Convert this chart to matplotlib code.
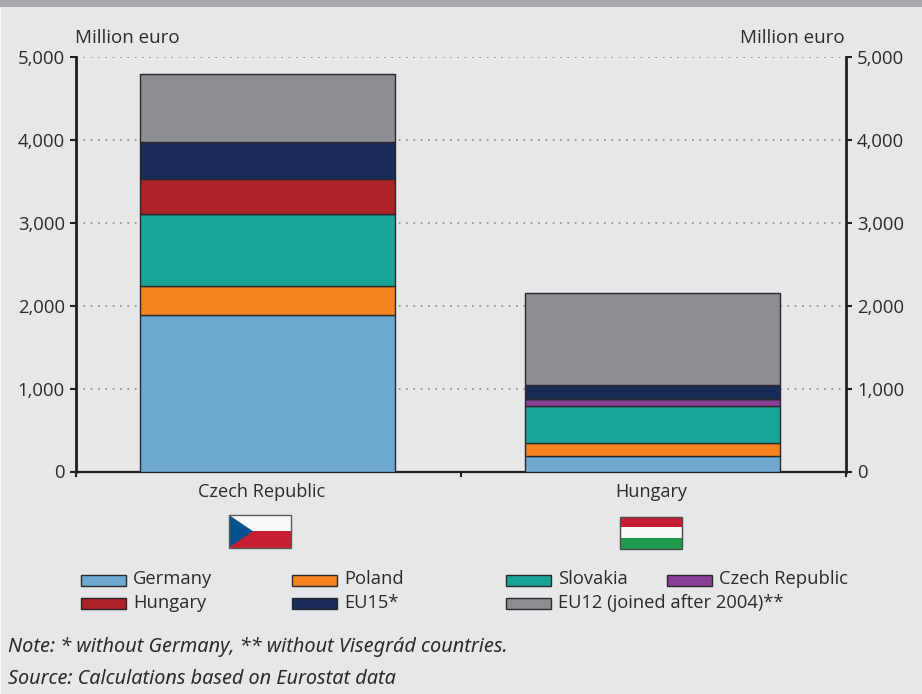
import matplotlib
matplotlib.use('Agg')
import matplotlib.pyplot as plt
from matplotlib.patches import Rectangle, Polygon

plt.rcParams['font.family'] = ['Open Sans', 'DejaVu Sans']

W, H = 922., 694.
bg = '#e6e7e9'
text_col = '#2b2a2c'
line_col = '#231f20'

countries = ['Czech Republic', 'Hungary']
germany = [1888, 187]
poland = [344, 157]
slovakia = [880, 450]
czech = [0, 81]
hungary = [416, 0]
eu15 = [441, 165]
eu12 = [820, 1117]

names = ['Germany', 'Poland', 'Slovakia', 'Czech Republic', 'Hungary', 'EU15*', 'EU12 (joined after 2004)**']
series = [germany, poland, slovakia, czech, hungary, eu15, eu12]
colors = ['#6fa8cf', '#f58220', '#1aa497', '#8a3f96', '#ad2226', '#182b56', '#8c8d91']

yticks = [0, 1000, 2000, 3000, 4000, 5000]
yticklabels = ['0', '1,000', '2,000', '3,000', '4,000', '5,000']

fig = plt.figure(figsize=(W/100, H/100), dpi=100, facecolor=bg)

# full-figure layer in pixel coordinates for the band, flags and legend
top = fig.add_axes([0, 0, 1, 1], zorder=3)
top.set_xlim(0, W)
top.set_ylim(H, 0)
top.axis('off')
top.add_patch(Rectangle((0, 0), W, 7, fc='#a7a9ac', ec='none'))
top.add_patch(Rectangle((0, 7), 1, H-7, fc='#f4f5f6', ec='none'))

# plot area
left, right, ytop, ybot = 76., 846., 57., 471.5
ax = fig.add_axes([left/W, 1-ybot/H, (right-left)/W, (ybot-ytop)/H], facecolor='none')

x = [0, 1]
bottom = [0, 0]
for vals, c in zip(series, colors):
    ax.bar(x, vals, width=0.663, bottom=bottom, color=c, edgecolor='#2a2a2e', linewidth=1.0, zorder=3)
    bottom = [b+v for b, v in zip(bottom, vals)]

x0, x1 = -0.4977, 1.5036
ax.set_xlim(x0, x1)
ax.set_ylim(0, 5000)
ax.set_yticks(yticks)
ax.set_yticklabels(yticklabels)
ax.set_xticks([x0, (x0+x1)/2, x1])
ax.set_xticklabels([])
ax.tick_params(axis='y', labelsize=13.3, labelcolor=text_col, color=line_col, width=1.5, length=4.3, pad=3.6)
ax.tick_params(axis='x', color=line_col, width=1.5, length=3.6)
ax.yaxis.grid(True, linestyle=(0, (1.2, 3.6)), color='#86888b', linewidth=1.1, zorder=1)
ax.set_axisbelow(True)

for s in ['top', 'right']:
    ax.spines[s].set_visible(False)
ax.spines['left'].set_linewidth(2.0)
ax.spines['left'].set_color(line_col)
ax.spines['bottom'].set_linewidth(1.6)
ax.spines['bottom'].set_color(line_col)

ax2 = ax.twinx()
ax2.set_ylim(0, 5000)
ax2.set_yticks(yticks)
ax2.set_yticklabels(yticklabels)
ax2.tick_params(axis='y', labelsize=13.3, labelcolor=text_col, color=line_col, width=1.5, length=4.3, pad=3.6)
for s in ['top', 'left', 'bottom']:
    ax2.spines[s].set_visible(False)
ax2.spines['right'].set_linewidth(2.0)
ax2.spines['right'].set_color(line_col)

# the labels sit a little left of the bar centres, over the flags
for xc, name, shift in zip(x, countries, [-4.6, -0.9]):
    ax.annotate(name, (xc, 0), xycoords=('data', 'data'), xytext=(shift, -8.4), textcoords='offset points',
                ha='center', va='top', fontsize=13.1, color=text_col)

top.text(75, 38, 'Million euro', fontsize=13.5, color=text_col, ha='left', va='center')
top.text(845, 38, 'Million euro', fontsize=13.5, color=text_col, ha='right', va='center')

# Czech flag
fx, fy, fw, fh = 229., 515., 62., 32.5
top.add_patch(Rectangle((fx, fy), fw, fh/2, fc='#f9f9f9', ec='none'))
top.add_patch(Rectangle((fx, fy+fh/2), fw, fh/2, fc='#c61f30', ec='none'))
top.add_patch(Polygon([(fx, fy), (fx+24, fy+fh/2), (fx, fy+fh)], fc='#03528f', ec='none'))
top.add_patch(Rectangle((fx, fy), fw, fh, fc='none', ec='#58595b', lw=1.0))

# Hungarian flag
fx, fy, fw, fh = 619.5, 516.5, 62., 32.5
for i, c in enumerate(['#c61f30', '#f9f9f9', '#1f9b4e']):
    top.add_patch(Rectangle((fx, fy+i*fh/3), fw, fh/3, fc=c, ec='none'))
top.add_patch(Rectangle((fx, fy), fw, fh, fc='none', ec='#4a4a4c', lw=1.0))

# legend laid out by hand since the columns overlap
legend_x = [80.5, 291.5, 505.5, 666.5, 80.5, 291.5, 505.5]
legend_y = [580, 580, 580, 580, 603.5, 603.5, 603.5]
for name, c, lx, ly in zip(names, colors, legend_x, legend_y):
    top.add_patch(Rectangle((lx, ly-5.5), 45, 11, fc=c, ec='#2a2a2e', lw=1.0))
    top.text(lx+52.5, ly-0.5, name, fontsize=13.2, color=text_col, ha='left', va='center')

top.text(8, 647, u'Note: * without Germany, ** without Visegr\u00e1d countries.', fontsize=14.35,
         family=['Noto Sans', 'DejaVu Sans'], style='italic', color=text_col, ha='left', va='center')
top.text(8, 679, 'Source: Calculations based on Eurostat data', fontsize=14.3,
         family=['Noto Sans', 'DejaVu Sans'], style='italic', color=text_col, ha='left', va='center')

fig.savefig('out.png', dpi=100, facecolor=bg)
